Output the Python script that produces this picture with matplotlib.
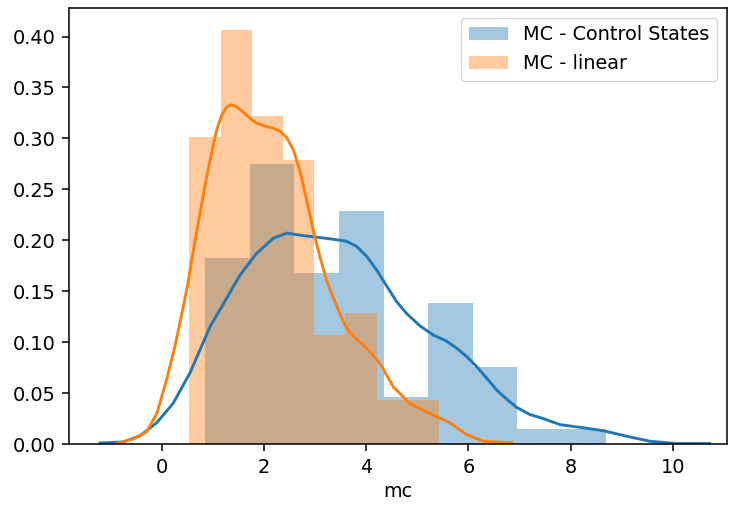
import numpy as np
import matplotlib
matplotlib.use("Agg")
import matplotlib.pyplot as plt

# scale factor: reference was rendered at ~139 dpi, we save at 100
s = 1.39
plt.rcParams.update({
    "font.size": 10 * s,
    "lines.linewidth": 1.5 * s,
    "axes.linewidth": 0.8 * s,
    "xtick.major.size": 3.5 * s,
    "ytick.major.size": 3.5 * s,
    "xtick.major.width": 0.8 * s,
    "ytick.major.width": 0.8 * s,
    "xtick.major.pad": 3.5 * s,
    "ytick.major.pad": 3.5 * s,
})

# --- histogram data (density) ---
ctrl_edges = [0.85, 1.72, 2.59, 3.47, 4.34, 5.21, 6.08, 6.95, 7.83, 8.70]
ctrl_heights = [0.183, 0.275, 0.168, 0.229, 0.046, 0.138, 0.076, 0.015, 0.015]

lin_edges = [0.53, 1.15, 1.76, 2.37, 2.98, 3.59, 4.20, 4.81, 5.43]
lin_heights = [0.301, 0.406, 0.322, 0.279, 0.107, 0.129, 0.043, 0.043]

# --- kde curves ---
ctrl_kde_x = [-1.21, -0.76, -0.43, -0.10, 0.22, 0.55, 0.94, 1.53, 1.85, 2.18,
              2.44, 2.70, 3.03, 3.35, 3.61, 3.81, 4.01, 4.20, 4.40, 4.59,
              4.79, 5.05, 5.31, 5.57, 5.77, 5.96, 6.16, 6.35, 6.55, 6.75,
              6.94, 7.20, 7.46, 7.79, 8.24, 8.64, 9.09, 9.55, 10.07, 10.72]
ctrl_kde_y = [0.001, 0.002, 0.008, 0.021, 0.040, 0.070, 0.115, 0.166, 0.187, 0.202,
              0.207, 0.205, 0.203, 0.201, 0.199, 0.194, 0.184, 0.171, 0.155, 0.140,
              0.128, 0.116, 0.107, 0.101, 0.094, 0.086, 0.076, 0.065, 0.053, 0.044,
              0.036, 0.029, 0.025, 0.019, 0.016, 0.013, 0.0077, 0.0027, 0.0005, 0.0004]

lin_kde_x = [-0.89, -0.56, -0.30, -0.10, 0.09, 0.25, 0.39, 0.51, 0.58, 0.74,
             0.87, 0.97, 1.07, 1.17, 1.27, 1.36, 1.46, 1.59, 1.72, 1.85,
             2.02, 2.18, 2.31, 2.44, 2.57, 2.70, 2.83, 2.96, 3.09, 3.22,
             3.35, 3.55, 3.68, 4.01, 4.27, 4.53, 4.85, 5.24, 5.63, 5.96,
             6.29, 6.84]
lin_kde_y = [0.0005, 0.005, 0.012, 0.030, 0.063, 0.095, 0.128, 0.158, 0.180, 0.225,
             0.261, 0.285, 0.308, 0.323, 0.331, 0.333, 0.331, 0.326, 0.320, 0.315,
             0.312, 0.310, 0.307, 0.301, 0.289, 0.268, 0.240, 0.210, 0.184, 0.161,
             0.144, 0.120, 0.109, 0.094, 0.079, 0.056, 0.040, 0.030, 0.021, 0.0093,
             0.0027, 0.0012]

blue = "#1f77b4"
orange = "#ff7f0e"

fig = plt.figure(figsize=(7.33, 5.08), dpi=100)
ax = fig.add_axes([69 / 733, 64 / 508, (727 - 69) / 733, (444 - 8) / 508])

ax.bar(ctrl_edges[:-1], ctrl_heights, width=np.diff(ctrl_edges), align="edge",
       color=blue, alpha=0.4, linewidth=0, label="MC - Control States")
ax.plot(ctrl_kde_x, ctrl_kde_y, color=blue)

ax.bar(lin_edges[:-1], lin_heights, width=np.diff(lin_edges), align="edge",
       color=orange, alpha=0.4, linewidth=0, label="MC - linear")
ax.plot(lin_kde_x, lin_kde_y, color=orange)

ax.set_xlim(-1.82, 11.06)
ax.set_ylim(0, 0.428)
ax.set_xticks([0, 2, 4, 6, 8, 10])
ax.set_yticks(np.arange(0, 0.41, 0.05))
ax.yaxis.set_major_formatter(matplotlib.ticker.FormatStrFormatter("%.2f"))
ax.set_xlabel("mc")
ax.legend(loc="upper right")

fig.savefig("out.png", dpi=100)
